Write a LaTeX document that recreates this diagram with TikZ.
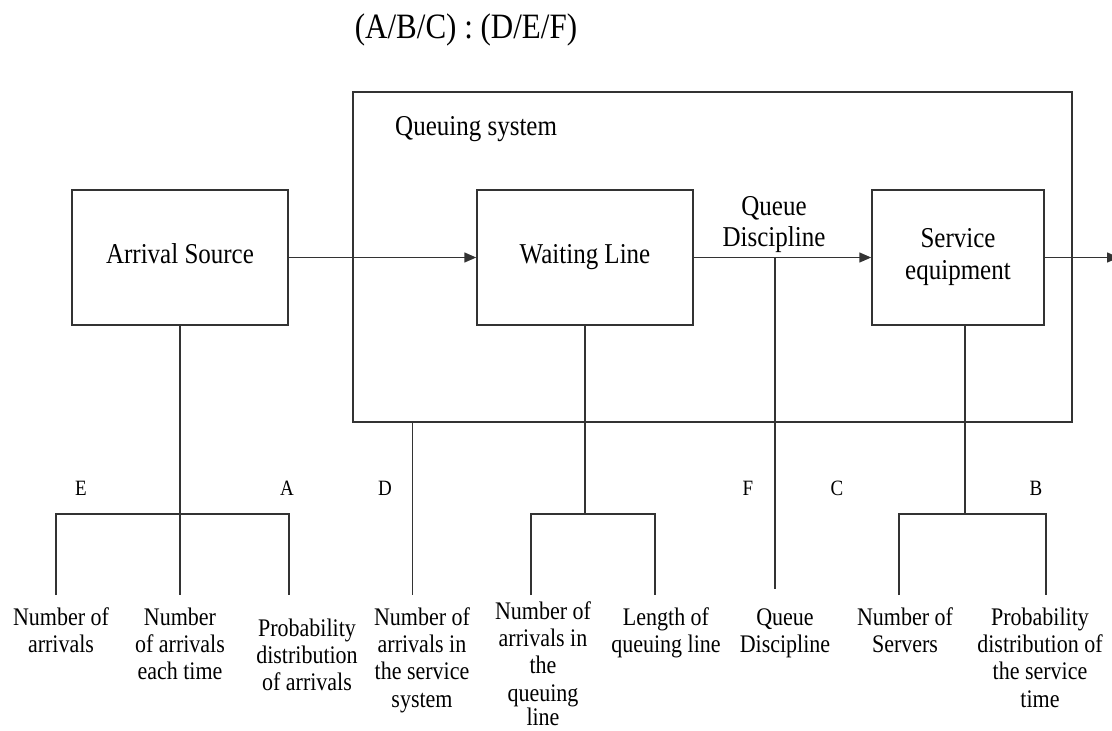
\documentclass[tikz,border=0pt]{standalone}
\usepackage{fontspec}
\usepackage{graphicx}
\setmainfont{Liberation Serif}
\usetikzlibrary{arrows.meta}
% text stacked line by line and drawn slightly taller than the font
\newcommand{\tx}[1]{\scalebox{1}[1.15]{\begin{tabular}[t]{@{}c@{}}#1\end{tabular}}}
\newcommand{\txc}[1]{\scalebox{1}[1.15]{\begin{tabular}[c]{@{}c@{}}#1\end{tabular}}}
\begin{document}
\begin{tikzpicture}[x=1pt,y=-1pt,
  line/.style={line width=1.5pt,draw=black!80},
  arr/.style={line,-{Triangle[length=12pt,width=10pt]}},
  box/.style={line,draw,minimum width=216pt,minimum height=135pt,inner sep=0pt,
    font=\fontsize{25}{27.8}\selectfont},
  lbl/.style={inner sep=0pt,anchor=base,font=\fontsize{25}{27.8}\selectfont},
  leaf/.style={anchor=base,inner sep=0pt,
    font=\fontsize{22}{23.9}\selectfont},
  letter/.style={anchor=base,inner sep=0pt,font=\fontsize{19}{22}\selectfont}]
\useasboundingbox (0,0) rectangle (1112,731);

% heading
\node[inner sep=0pt,anchor=base,font=\fontsize{31}{34}\selectfont] (title) at (466,38) {\tx{(A/B/C) : (D/E/F)}};

% queuing system frame
\node[line,draw,minimum width=719pt,minimum height=330pt,inner sep=0pt] (sys) at (712.5,257) {};
\node[lbl,anchor=base west] (systxt) at (395,135) {\tx{Queuing system}};

% main blocks
\node[box] (src) at (180,257.5) {\txc{Arrival Source}};
\node[box] (wait) at (585,257.5) {\txc{Waiting Line}};
\node[box,minimum width=172pt] (serv) at (958,257.5) {\txc{Service\\equipment}};
\node[lbl] (qdtxt) at (774,215) {\tx{Queue\\Discipline}};

% flow
\coordinate (out) at (1119,257.5);
\draw[arr] (src.east) -- (wait.west);
\draw[arr] (wait.east) -- (serv.west);
\draw[arr] (serv.east) -- (out);

% branch points
\coordinate (qd) at (775,257.5);
\coordinate (qdend) at (775,589);
\coordinate (d0) at (412.5,422);
\coordinate (d1) at (412.5,595);
\coordinate (s0) at (180,514);
\coordinate (w0) at (585,514);
\coordinate (v0) at (965,514);
\coordinate (sL) at (56,514);   \coordinate (sL1) at (56,595);
\coordinate (sM1) at (180,595);
\coordinate (sR) at (289,514);  \coordinate (sR1) at (289,595);
\coordinate (wL) at (531,514);  \coordinate (wL1) at (531,595);
\coordinate (wR) at (655,514);  \coordinate (wR1) at (655,595);
\coordinate (vL) at (899,514);  \coordinate (vL1) at (899,595);
\coordinate (vR) at (1046,514); \coordinate (vR1) at (1046,595);

\draw[line] (qd) -- (qdend);
\draw[line] (d0) -- (d1);
\draw[line] (src.south) -- (s0) -- (sM1);
\draw[line] (sL1) -- (sL) -- (sR) -- (sR1);
\draw[line] (wait.south) -- (w0);
\draw[line] (wL1) -- (wL) -- (wR) -- (wR1);
\draw[line] (serv.south -| v0) -- (v0);
\draw[line] (vL1) -- (vL) -- (vR) -- (vR1);

% notation letters
\node[letter] (E) at (81,495) {\tx{E}};
\node[letter] (A) at (287,495) {\tx{A}};
\node[letter] (D) at (385,495) {\tx{D}};
\node[letter] (F) at (748,495) {\tx{F}};
\node[letter] (C) at (837,495) {\tx{C}};
\node[letter] (B) at (1036,495) {\tx{B}};

% attributes
\node[leaf] (l1) at (61,625) {\tx{Number of\\arrivals}};
\node[leaf] (l2) at (180,625) {\tx{Number\\of arrivals\\each time}};
\node[leaf] (l3) at (307,636) {\tx{Probability\\distribution\\of arrivals}};
\node[leaf] (l4) at (422,625) {\tx{Number of\\arrivals in\\the service\\system}};
\node[leaf] (l5) at (543,619) {\tx{Number of\\arrivals in\\the\\queuing\\[-3pt]line}};
\node[leaf] (l6) at (666,625) {\tx{Length of\\queuing line}};
\node[leaf] (l7) at (785,625) {\tx{Queue\\Discipline}};
\node[leaf] (l8) at (905,625) {\tx{Number of\\Servers}};
\node[leaf] (l9) at (1040,625) {\tx{Probability\\distribution of\\the service\\time}};
\end{tikzpicture}
\end{document}
